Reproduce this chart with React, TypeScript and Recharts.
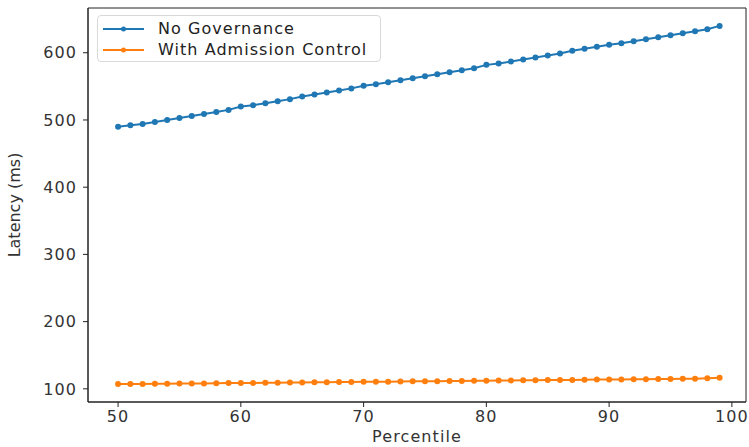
import React from "react";
import { LineChart, Line, XAxis, YAxis, ReferenceArea } from "recharts";

const percentiles = [50,51,52,53,54,55,56,57,58,59,60,61,62,63,64,65,66,67,68,69,70,71,72,73,74,75,76,77,78,79,80,81,82,83,84,85,86,87,88,89,90,91,92,93,94,95,96,97,98,99];
const noGovernance = [490,492,494,497,500,503,506,509,512,515,520,522,525,528,531,535,538,541,544,547,551,553,556,559,562,565,568,571,574,577,582,584,587,590,593,596,599,603,606,609,612,614,617,620,623,626,629,632,635,640];
const withAdmission = [107.0,107.1,107.3,107.4,107.6,107.8,107.9,108.1,108.3,108.5,108.6,108.8,109.0,109.1,109.3,109.5,109.7,109.8,110.0,110.2,110.4,110.5,110.7,110.9,111.1,111.2,111.4,111.6,111.8,111.9,112.1,112.3,112.5,112.6,112.8,113.0,113.2,113.3,113.5,113.7,113.9,114.0,114.2,114.4,114.6,114.7,114.9,115.1,115.8,116.5];
const xTicks = [50, 60, 70, 80, 90, 100];
const yTicks = [100, 200, 300, 400, 500, 600];
const seriesNames = ["No Governance", "With Admission Control"];

const data = percentiles.map((p, i) => ({ p, a: noGovernance[i], b: withAdmission[i] }));

const X_DOMAIN: [number, number] = [47.55, 101.15];
const Y_DOMAIN: [number, number] = [80.4, 666.6];

const FONT = "DejaVu Sans, sans-serif";
const BLUE = "#1f77b4";
const ORANGE = "#ff7f0e";
const TXT = "#333";
const tickStyle = { fill: TXT, fontSize: 16, fontFamily: FONT, letterSpacing: 1.1 };

const LegendBox = () => (
  <div style={{ position: "absolute", left: 97, top: 15, width: 284, height: 47, boxSizing: "border-box", border: "1px solid #d9d9d9", borderRadius: 4, background: "rgba(255,255,255,0.9)", padding: "2px 5px", fontFamily: FONT, fontSize: 16, letterSpacing: 1.05, color: "#222" }}>
    {[{ c: BLUE, t: seriesNames[0] }, { c: ORANGE, t: seriesNames[1] }].map((e) => (
      <div key={e.t} style={{ display: "flex", alignItems: "center", height: 21, whiteSpace: "nowrap" }}>
        <svg width={41} height={10} style={{ marginRight: 14, flex: "none" }}>
          <line x1={0} y1={5} x2={41} y2={5} stroke={e.c} strokeWidth={2} />
          <circle cx={20.5} cy={5} r={2.5} fill={e.c} />
        </svg>
        <span>{e.t}</span>
      </div>
    ))}
  </div>
);

export default function App() {
  return (
    <div style={{ position: "absolute", left: 0, top: 0, width: 749, height: 447, background: "#fff", overflow: "hidden" }}>
      <LineChart width={749} height={447} data={data} margin={{ top: 8, right: 3, bottom: 0, left: 0 }}>
        <XAxis
          dataKey="p"
          type="number"
          domain={X_DOMAIN}
          ticks={xTicks}
          allowDataOverflow
          stroke="#222"
          tick={tickStyle}
          tickSize={5}
          tickMargin={4}
          height={45}
          label={{ value: "Percentile", position: "insideBottom", offset: 5, fill: TXT, fontSize: 16, fontFamily: FONT, style: { letterSpacing: 1.1 } }}
        />
        <YAxis
          type="number"
          domain={Y_DOMAIN}
          ticks={yTicks}
          allowDataOverflow
          stroke="#222"
          tick={tickStyle}
          tickSize={5}
          tickMargin={6}
          width={88}
          label={{ value: "Latency (ms)", angle: -90, position: "insideLeft", offset: 14, fill: TXT, fontSize: 16, fontFamily: FONT, style: { textAnchor: "middle" } }}
        />
        <ReferenceArea x1={X_DOMAIN[0]} x2={X_DOMAIN[1]} y1={Y_DOMAIN[0]} y2={Y_DOMAIN[1]} fill="none" stroke="#222" strokeWidth={1} ifOverflow="visible" />
        <Line dataKey="a" stroke={BLUE} strokeWidth={2} dot={{ r: 3, fill: BLUE, stroke: BLUE, strokeWidth: 0 }} isAnimationActive={false} />
        <Line dataKey="b" stroke={ORANGE} strokeWidth={2} dot={{ r: 3, fill: ORANGE, stroke: ORANGE, strokeWidth: 0 }} isAnimationActive={false} />
      </LineChart>
      <LegendBox />
    </div>
  );
}
